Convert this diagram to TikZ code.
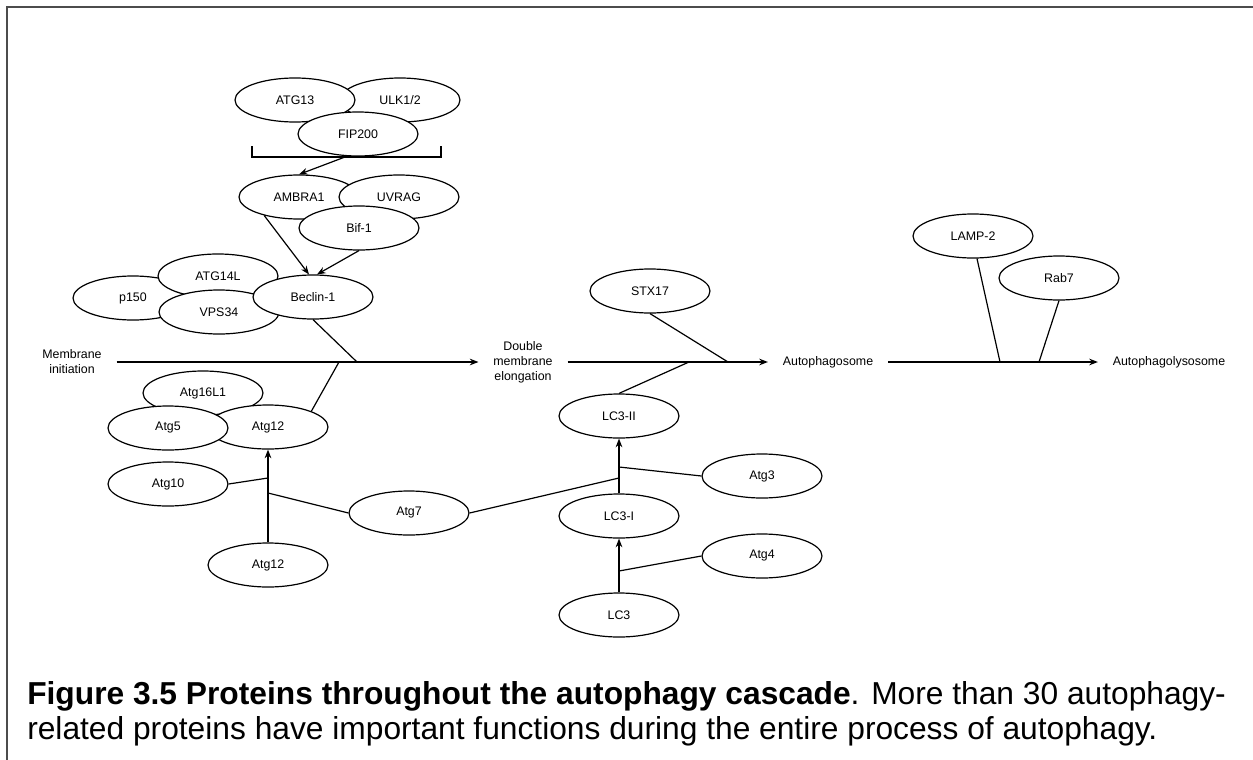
\documentclass[tikz,border=0pt]{standalone}
\usepackage{fontspec}
\setmainfont{Liberation Sans}
\usetikzlibrary{shapes.geometric,arrows.meta}
\tikzset{
  prot/.style={ellipse, draw, fill=white, line width=0.9pt, minimum width=90pt, minimum height=33pt, inner sep=0pt, font=\fontsize{9.3}{11}\selectfont},
  stage/.style={align=center, inner xsep=11pt, inner ysep=0pt, font=\fontsize{9.3}{11.25}\selectfont},
  conn/.style={line width=0.9pt},
  arr/.style={line width=0.9pt, -{Stealth[length=6.5pt,width=5pt]}},
  capfont/.style={anchor=base west, inner sep=0pt, font=\fontsize{23.8}{28}\selectfont}
}
\begin{document}
\begin{tikzpicture}[x=0.75pt,y=-0.75pt]
\useasboundingbox (0,0) rectangle (1253,760);
\draw[line width=1.5pt, color=black!70] (7,760) -- (7,7) -- (1253,7);

% top complex
\node[prot] (ulk) at (400,100) {ULK1/2};
\node[prot] (atg13) at (295,100) {ATG13};
\node[prot] (fip) at (358,134) {FIP200};
\coordinate (bl) at (252,146);
\coordinate (br) at (441,146);
\coordinate (bm) at (345,157);
\draw[conn] (bl) |- (bm) -| (br);

% AMBRA1 complex
\node[prot] (ambra) at (299,197) {AMBRA1};
\node[prot] (uvrag) at (399,197) {UVRAG};
\node[prot] (bif) at (359,228) {Bif-1};

% Beclin complex
\node[prot] (p150) at (133,298) {p150};
\node[prot] (atg14) at (218,276) {ATG14L};
\node[prot] (vps) at (219,312) {VPS34};
\node[prot] (beclin) at (313,297) {Beclin-1};

% stages
\node[stage] (mi) at (72,362) {Membrane\\initiation};
\node[stage] (dme) at (523,362) {Double\\membrane\\elongation};
\node[stage] (aps) at (828,362) {Autophagosome};
\node[stage] (apl) at (1169,362) {Autophagolysosome};
\draw[arr] (mi) -- (dme);
\draw[arr] (dme) -- (aps);
\draw[arr] (aps) -- (apl);

% junctions on main line
\coordinate (j1) at (357,362);
\coordinate (j2) at (339,362);
\coordinate (j3) at (728,362);
\coordinate (j4) at (689,362);
\coordinate (j5) at (1000,362);
\coordinate (j6) at (1039,362);

% Atg12 complex
\node[prot] (atg16) at (203,393) {Atg16L1};
\node[prot] (atg12c) at (268,427) {Atg12};
\node[prot] (atg5) at (168,428) {Atg5};
\node[prot] (atg10) at (168,484) {Atg10};
\node[prot] (atg7) at (409,513) {Atg7};
\node[prot] (atg12) at (268,565) {Atg12};

% LC3 chain
\node[prot] (stx) at (650,291) {STX17};
\node[prot] (lc3ii) at (619,416) {LC3-II};
\node[prot] (lc3i) at (619,516) {LC3-I};
\node[prot] (lc3) at (619,615) {LC3};
\node[prot] (atg3) at (762,476) {Atg3};
\node[prot] (atg4) at (762,556) {Atg4};

% lysosome
\node[prot] (lamp) at (973,236) {LAMP-2};
\node[prot] (rab) at (1059,278) {Rab7};

% connectors
\draw[arr] (bm) -- (ambra.north);
\draw[arr] (ambra.208) -- (beclin.100);
\draw[arr] (bif.south) -- (beclin.80);
\draw[conn] (beclin.south) -- (j1);
\draw[conn] (atg12c.20) -- (j2);
\draw[conn] (stx.south) -- (j3);
\draw[conn] (lc3ii.north) -- (j4);
\draw[conn] (lamp.-80) -- (j5);
\draw[conn] (rab.south) -- (j6);

\coordinate (k1) at (268,478);
\coordinate (k2) at (268,493);
\coordinate (k3) at (619,467);
\coordinate (k4) at (619,478);
\coordinate (k5) at (619,571);
\draw[arr] (atg12.north) -- (atg12c.south);
\draw[conn] (atg10.east) -- (k1);
\draw[conn] (atg7.west) -- (k2);
\draw[conn] (atg7.east) -- (k4);
\draw[arr] (lc3i.north) -- (lc3ii.south);
\draw[conn] (atg3.west) -- (k3);
\draw[arr] (lc3.north) -- (lc3i.south);
\draw[conn] (atg4.west) -- (k5);

% caption
\node[capfont] (cap1) at (27,704) {\textbf{Figure 3.5 Proteins throughout the autophagy cascade}. More than 30 autophagy-};
\node[capfont] (cap2) at (27,739) {related proteins have important functions during the entire process of autophagy.};
\end{tikzpicture}
\end{document}
